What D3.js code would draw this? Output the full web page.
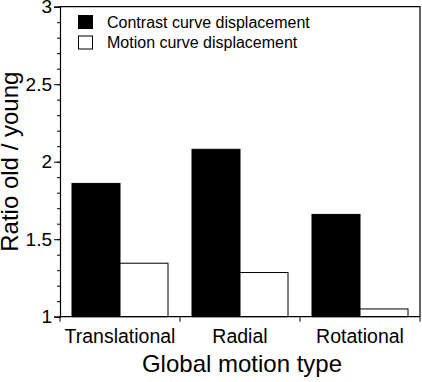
<!DOCTYPE html>
<html lang="en">
<head>
<meta charset="UTF-8">
<title>Ratio old / young</title>
<script src="https://d3js.org/d3.v7.min.js"></script>
<style>
  body { margin: 0; background: #fff; }
  svg text { font-family: "Liberation Sans", Arial, Helvetica, sans-serif; fill: #000; }
</style>
</head>
<body>
<div id="chart"></div>
<script>
// data
const motionTypes = ["Translational", "Radial", "Rotational"];
const seriesNames = ["Contrast curve displacement", "Motion curve displacement"];
const contrastRatio = [1.86, 2.08, 1.66];
const motionRatio = [1.345, 1.285, 1.05];
const yTicks = [1, 1.5, 2, 2.5, 3];

const width = 422, height = 382;
const margin = {top: 6.7, right: 2, bottom: 65.3, left: 60};

const svg = d3.select("#chart").append("svg")
  .attr("width", width)
  .attr("height", height);

const x = d3.scaleBand()
  .domain(motionTypes)
  .range([margin.left, width - margin.right])
  .padding(0);

const xInner = d3.scaleBand()
  .domain(seriesNames)
  .range([0, x.bandwidth()])
  .paddingInner(0)
  .paddingOuter(0.25);

const y = d3.scaleLinear()
  .domain([1, 3])
  .range([height - margin.bottom, margin.top]);

const rows = motionTypes.map((m, i) => ({
  type: m,
  values: [
    {series: seriesNames[0], value: contrastRatio[i]},
    {series: seriesNames[1], value: motionRatio[i]}
  ]
}));
const fills = {[seriesNames[0]]: "#000", [seriesNames[1]]: "#fff"};

// bars
svg.append("g")
  .selectAll("g")
  .data(rows)
  .join("g")
  .attr("transform", d => `translate(${x(d.type)},0)`)
  .selectAll("rect")
  .data(d => d.values)
  .join("rect")
  .attr("x", d => xInner(d.series))
  .attr("width", xInner.bandwidth())
  .attr("y", d => y(d.value))
  .attr("height", d => y(1) - y(d.value))
  .attr("fill", d => fills[d.series])
  .attr("stroke", "#000")
  .attr("stroke-width", 1);

// frame top/right
const x0 = margin.left, x1 = width - margin.right;
svg.append("path")
  .attr("d", `M${x0},${y(3)}H${x1}V${y(1)}`)
  .attr("fill", "none")
  .attr("stroke", "#000")
  .attr("stroke-width", 1.2);

// y axis, minor ticks every 0.1
const yAxisG = svg.append("g").attr("transform", `translate(${x0},0)`);
yAxisG.call(d3.axisLeft(y).tickValues(d3.range(1, 3.001, 0.1)).tickSize(3).tickFormat(""))
  .call(g => g.select(".domain").remove());
yAxisG.append("g").call(d3.axisLeft(y).tickValues(yTicks).tickSize(6).tickPadding(2)
    .tickFormat(d3.format("")))
  .call(g => g.select(".domain").attr("stroke-width", 1.2))
  .call(g => g.selectAll("text").attr("font-size", 19).attr("fill", "#000"));
yAxisG.selectAll("line").attr("stroke", "#000");

// x axis, ticks at group boundaries
const xAxisG = svg.append("g").attr("transform", `translate(0,${y(1)})`);
xAxisG.append("path")
  .attr("d", `M${x0},0H${x1}`)
  .attr("stroke", "#000")
  .attr("stroke-width", 1.2);
xAxisG.selectAll("line.tk")
  .data(motionTypes.concat(["end"]))
  .join("line")
  .attr("class", "tk")
  .attr("x1", (d, i) => i < motionTypes.length ? x(d) : x1)
  .attr("x2", (d, i) => i < motionTypes.length ? x(d) : x1)
  .attr("y1", 0)
  .attr("y2", 5)
  .attr("stroke", "#000");
xAxisG.selectAll("text.lbl")
  .data(motionTypes)
  .join("text")
  .attr("class", "lbl")
  .attr("x", d => x(d) + x.bandwidth() / 2)
  .attr("y", 26)
  .attr("text-anchor", "middle")
  .attr("font-size", 19.5)
  .text(d => d);

// axis titles
svg.append("text")
  .attr("x", (x0 + x1) / 2 + 2)
  .attr("y", 372)
  .attr("text-anchor", "middle")
  .attr("font-size", 24)
  .text("Global motion type");

svg.append("text")
  .attr("transform", `translate(18,${(y(1) + y(3)) / 2}) rotate(-90)`)
  .attr("text-anchor", "middle")
  .attr("font-size", 24)
  .text("Ratio old / young");

// legend
const legend = svg.append("g").attr("transform", "translate(78,15)");
const li = legend.selectAll("g")
  .data(seriesNames)
  .join("g")
  .attr("transform", (d, i) => `translate(0,${i * 20.5})`);
li.append("rect")
  .attr("x", 0.5).attr("y", 0.5)
  .attr("width", 14).attr("height", 13)
  .attr("fill", d => fills[d])
  .attr("stroke", "#000")
  .attr("stroke-width", 1);
li.append("text")
  .attr("x", 29)
  .attr("y", 12.5)
  .attr("font-size", 16)
  .text(d => d);
</script>
</body>
</html>
